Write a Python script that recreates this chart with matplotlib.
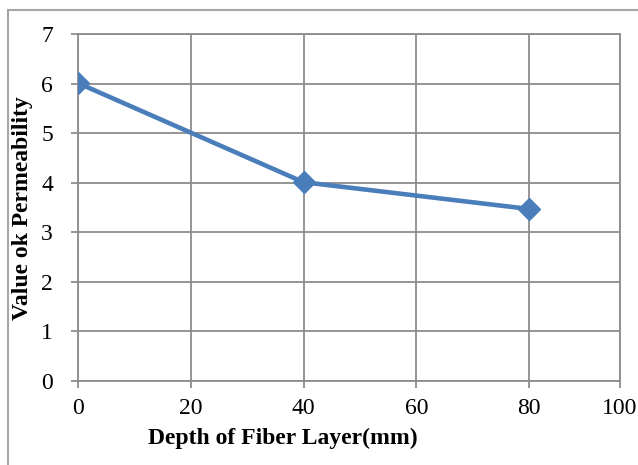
import matplotlib
matplotlib.use('Agg')
import matplotlib.pyplot as plt
import numpy as np
from matplotlib.lines import Line2D

# Data
depth = [0, 40, 80]
permeability = [6.01, 4.01, 3.47]
xticks = [0, 20, 40, 60, 80, 100]
yticks = [0, 1, 2, 3, 4, 5, 6, 7]

W, H = 638, 465
fig = plt.figure(figsize=(W / 100, H / 100), dpi=100)
plt.rcParams['font.family'] = 'Liberation Serif'

# plot area in pixels: left 78, right 620, top 34, bottom 381
ax = fig.add_axes([78 / W, (H - 381) / H, (620 - 78) / W, (381 - 34) / H])

# last interval (80-100) is drawn narrower than the others
k = 91 / 113


def fwd(x):
    x = np.asarray(x, dtype=float)
    return np.where(x <= 80, x, 80 + (x - 80) * k)


def inv(u):
    u = np.asarray(u, dtype=float)
    return np.where(u <= 80, u, 80 + (u - 80) / k)


ax.set_xscale('function', functions=(fwd, inv))

ax.plot(depth, permeability, color='#4a7ebb', linewidth=3.3, marker='D',
        markersize=11, markeredgecolor='#4a7ebb', solid_capstyle='round', zorder=3)

ax.set_xlim(0, 100)
ax.set_ylim(0, 7)
ax.set_xticks(xticks)
ax.set_xticklabels([str(t) for t in xticks])
ax.set_yticks(yticks)
ax.minorticks_off()
ax.grid(True, color='#8c8c8c', linewidth=1.3)
ax.set_axisbelow(True)
for s in ['top', 'right', 'left', 'bottom']:
    ax.spines[s].set_color('#8c8c8c')
    ax.spines[s].set_linewidth(1.3)
ax.tick_params(axis='both', colors='#8c8c8c', length=5, width=1.3,
               labelcolor='black', labelsize=17)
ax.tick_params(axis='x', pad=7)
ax.tick_params(axis='y', pad=13)

fig.text(283 / W, 1 - 438 / H, 'Depth of Fiber Layer(mm)', ha='center', va='center',
         fontsize=17, fontweight='bold')
fig.text(23 / W, 1 - 208 / H, 'Value ok Permeability', ha='center', va='center',
         rotation=90, fontsize=17, fontweight='bold')

# outer chart frame (top and left edges)
fig.add_artist(Line2D([8 / W, 1], [1 - 10 / H, 1 - 10 / H], color='#a6a6a6', linewidth=1.5))
fig.add_artist(Line2D([8 / W, 8 / W], [0, 1 - 10 / H], color='#a6a6a6', linewidth=1.5))

fig.savefig('out.png', dpi=100)
